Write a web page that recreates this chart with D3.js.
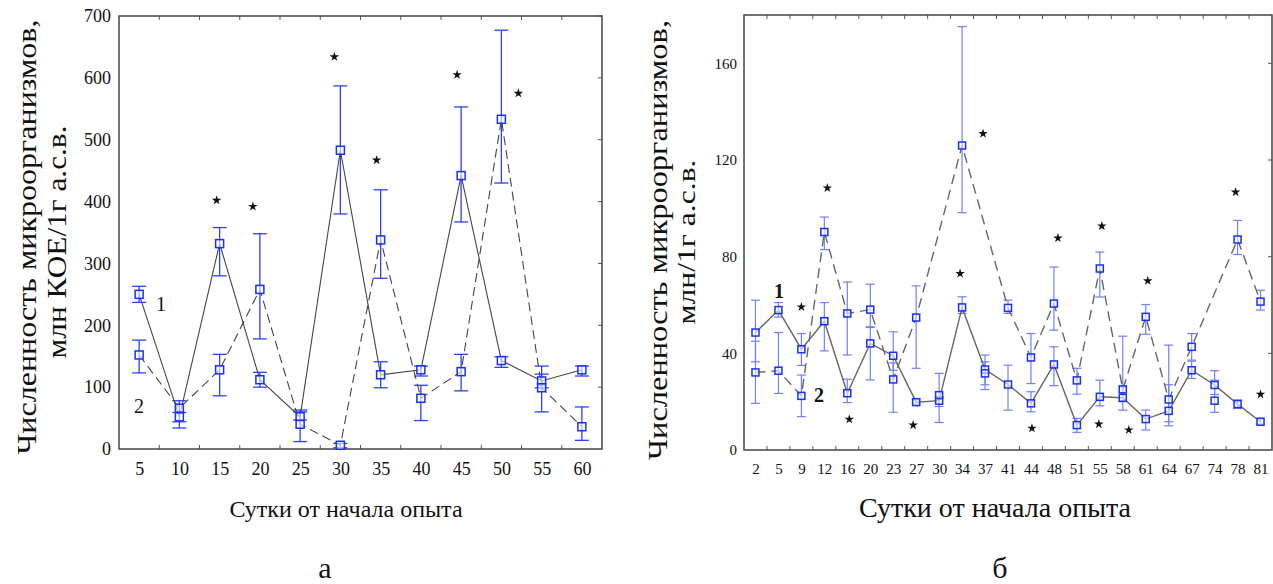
<!DOCTYPE html>
<html>
<head>
<meta charset="utf-8">
<script src="https://cdn.jsdelivr.net/npm/d3@7"></script>
<style>
body { margin: 0; background: #fff; }
svg { font-family: "Liberation Serif", "Times New Roman", serif; }
</style>
</head>
<body>
<svg width="1273" height="584"></svg>
<script>
// ---- panel а ----
var daysA = [5, 10, 15, 20, 25, 30, 35, 40, 45, 50, 55, 60];
var s1A   = [250, 52, 332, 112, 52, 483, 120, 128, 442, 143, 110, 128];
var s1ALo = [237, 44, 280, 100, 47, 380, 99, 118, 367, 132, 99, 118];
var s1AHi = [263, 59, 358, 124, 60, 587, 141, 134, 553, 149, 121, 134];
var s2A   = [152, 66, 128, 258, 40, 6, 338, 82, 125, 533, 99, 36];
var s2ALo = [123, 34, 86, 178, 12, 2, 276, 46, 94, 430, 60, 14];
var s2AHi = [176, 78, 153, 348, 63, 9, 419, 103, 153, 677, 134, 68];
var yTicksA = [0, 100, 200, 300, 400, 500, 600, 700];
var starDaysA = [15, 20, 30, 35, 45, 50];
var starValsA = [402, 392, 634, 467, 605, 575];
var starDxA   = [-3, -7, -6, -4, -4, 17];

// ---- panel б ----
var daysB = [2, 5, 9, 12, 16, 20, 23, 27, 30, 34, 37, 41, 44, 48, 51, 55, 58, 61, 64, 67, 74, 78, 81];
var s1B   = [48.6, 57.9, 41.7, 53.3, 23.5, 44.1, 39, 19.8, 20.4, 59, 33.3, 27.1, 19.3, 35.4, 10.3, 22, 21.6, 12.8, 16.2, 33, 26.9, 19, 11.7];
var s1BLo = [36.5, 55, 35, 41, 19.6, 29, 33, 19, 18, 56.5, 25, 16.5, 15.8, 26.6, 7.3, 18.3, 16.5, 8.3, 11.7, 29.6, 23, 17.2, 10.8];
var s1BHi = [62, 61, 48.2, 61, 29.3, 51, 48.9, 20.8, 22, 63.4, 39.3, 35.1, 24.1, 42.7, 13.1, 28.9, 26, 16.5, 27, 36.8, 32.8, 20.7, 12.8];
var s2B   = [32.1, 32.8, 22.4, 90.2, 56.5, 58.1, 29.2, 54.8, 22.7, 126, 31.7, 58.8, 38.3, 60.6, 28.8, 75.1, 25.1, 55.1, 20.9, 42.7, 20.4, 87.1, 61.4];
var s2BLo = [19.3, 23.4, 13.8, 82.9, 39.3, 50.7, 15.6, 33.8, 11.4, 98.2, 27, 56.5, 27.5, 49.6, 23.1, 63.3, 20, 47.9, 10, 37.2, 15.6, 80.9, 57.9];
var s2BHi = [45, 48.6, 31, 96.4, 69.5, 68.6, 36, 67.9, 31.7, 175.2, 36.5, 62, 48.2, 75.7, 33.8, 81.9, 47.1, 60.2, 43.4, 48.2, 28.9, 95, 66.1];
var skip2B = [30, 37, 74];   // points of series 2 not joined by the dashed line
var yTicksB = [0, 40, 80, 120, 160];
var starDaysB = [9, 12, 16, 27, 34, 37, 44, 48, 55, 55, 58, 61, 78, 81];
var starValsB = [59.2, 108.4, 12.7, 10.3, 73, 130.9, 9, 87.7, 10.7, 92.7, 8.3, 70, 106.7, 23];
var starDxB   = [0, 3, 2, -3, -2, -2, 1, 4, -1, 2, 6, 2, -2, 0];

var svg = d3.select("svg");
var blueMark = "#1630ff";

function panel(o) {
  var g = svg.append("g");
  var x = d3.scalePoint().domain(o.days).range([o.left, o.right]).padding(0.5);
  var y = d3.scaleLinear().domain([0, o.ymax]).range([o.bottom, o.top]);
  var step = x.step();

  // y tick labels
  var ya = g.append("g").attr("transform", "translate(" + o.left + ",0)")
      .call(d3.axisLeft(y).tickValues(o.yticks).tickSize(0).tickPadding(o.ypad));
  ya.select(".domain").remove();
  ya.attr("font-family", null).attr("font-size", o.yfs);
  ya.selectAll("text").attr("fill", "#111");

  // x tick labels
  var xa = g.append("g").attr("transform", "translate(0," + o.bottom + ")")
      .call(d3.axisBottom(x).tickSize(0).tickPadding(o.xpad));
  xa.select(".domain").remove();
  xa.attr("font-family", null).attr("font-size", o.xfs);
  xa.selectAll("text").attr("fill", "#111");

  // inward ticks on top, bottom (between categories) and right side
  var bounds = o.days.slice(1).map(function(d) { return x(d) - step / 2; });
  var tk = g.append("g").attr("stroke", "#555").attr("stroke-width", 1);
  bounds.forEach(function(b) {
    tk.append("line").attr("x1", b).attr("x2", b).attr("y1", o.top).attr("y2", o.top + 4);
    tk.append("line").attr("x1", b).attr("x2", b).attr("y1", o.bottom).attr("y2", o.bottom - 4);
  });
  o.yticks.slice(1).forEach(function(t) {
    tk.append("line").attr("x1", o.right).attr("x2", o.right - 4).attr("y1", y(t)).attr("y2", y(t));
  });

  // frame
  g.append("rect").attr("x", o.left).attr("y", o.top)
      .attr("width", o.right - o.left).attr("height", o.bottom - o.top)
      .attr("fill", "none").attr("stroke", "#444").attr("stroke-width", 1.5);

  // error bars
  var series = [
    { v: o.s1, lo: o.s1lo, hi: o.s1hi, dash: null, skip: [] },
    { v: o.s2, lo: o.s2lo, hi: o.s2hi, dash: o.dash, skip: o.skip2 || [] }
  ];
  var eb = g.append("g").attr("stroke", o.errColor).attr("stroke-width", o.errW).attr("fill", "none");
  series.forEach(function(s) {
    o.days.forEach(function(d, i) {
      var cx = x(d);
      eb.append("line").attr("x1", cx).attr("x2", cx).attr("y1", y(s.lo[i])).attr("y2", y(s.hi[i]));
      eb.append("line").attr("x1", cx - o.cap).attr("x2", cx + o.cap).attr("y1", y(s.lo[i])).attr("y2", y(s.lo[i]));
      eb.append("line").attr("x1", cx - o.cap).attr("x2", cx + o.cap).attr("y1", y(s.hi[i])).attr("y2", y(s.hi[i]));
    });
  });

  // lines
  series.forEach(function(s) {
    var pts = o.days.map(function(d, i) { return [d, s.v[i]]; })
        .filter(function(p) { return s.skip.indexOf(p[0]) < 0; });
    g.append("path")
        .attr("d", d3.line().x(function(p) { return x(p[0]); }).y(function(p) { return y(p[1]); })(pts))
        .attr("fill", "none").attr("stroke", o.lineColor).attr("stroke-width", o.lineW)
        .attr("stroke-dasharray", s.dash);
  });

  // markers
  series.forEach(function(s) {
    g.append("g").selectAll("rect").data(s.v).join("rect")
        .attr("x", function(v, i) { return x(o.days[i]) - o.ms / 2; })
        .attr("y", function(v) { return y(v) - o.ms / 2; })
        .attr("width", o.ms).attr("height", o.ms)
        .attr("fill", "#fff").attr("fill-opacity", 0.6)
        .attr("stroke", blueMark).attr("stroke-width", 1.5);
  });

  // significance stars
  g.append("g").selectAll("path").data(o.starDays).join("path")
      .attr("d", d3.symbol(d3.symbolStar).size(28))
      .attr("transform", function(d, i) {
        return "translate(" + (x(d) + o.starDx[i]) + "," + y(o.starVals[i]) + ")";
      })
      .attr("fill", "#111");

  // y title
  o.ytitle.forEach(function(t) {
    g.append("text")
        .attr("transform", "translate(" + t.x + "," + t.y + ") rotate(-90)")
        .attr("text-anchor", "middle").attr("font-size", t.fs).attr("fill", "#111")
        .attr("textLength", t.len).attr("lengthAdjust", "spacingAndGlyphs")
        .text(t.text);
  });

  // x title and panel letter
  g.append("text").attr("x", o.xtitle.x).attr("y", o.xtitle.y)
      .attr("text-anchor", "middle").attr("font-size", o.xtitle.fs).attr("fill", "#111")
      .text("Сутки от начала опыта");
  g.append("text").attr("x", o.letter.x).attr("y", o.letter.y)
      .attr("text-anchor", "middle").attr("font-size", o.letter.fs).attr("fill", "#111")
      .text(o.letter.text);

  // series numbers
  o.nums.forEach(function(n) {
    g.append("text").attr("x", n.x).attr("y", n.y)
        .attr("text-anchor", "middle").attr("font-size", n.fs)
        .attr("font-weight", n.bold ? "bold" : null).attr("fill", "#111")
        .text(n.text);
  });
}

panel({
  days: daysA, s1: s1A, s1lo: s1ALo, s1hi: s1AHi, s2: s2A, s2lo: s2ALo, s2hi: s2AHi,
  left: 119, right: 602, top: 16, bottom: 449, ymax: 700, yticks: yTicksA,
  ypad: 8, yfs: 18, xpad: 13, xfs: 18,
  errColor: "#2b40ff", errW: 1.3, cap: 7, lineColor: "#444", lineW: 1.1, dash: "9,5", ms: 8,
  starDays: starDaysA, starVals: starValsA, starDx: starDxA,
  ytitle: [
    { text: "Численность микроорганизмов,", x: 36, y: 237, fs: 28, len: 435 },
    { text: "млн КОЕ/1г а.с.в.", x: 66, y: 242, fs: 27, len: 233 }
  ],
  xtitle: { x: 346, y: 517, fs: 24 },
  letter: { text: "а", x: 325, y: 578, fs: 30 },
  nums: [
    { text: "1", x: 161, y: 311, fs: 20 },
    { text: "2", x: 139, y: 413, fs: 20 }
  ]
});

panel({
  days: daysB, s1: s1B, s1lo: s1BLo, s1hi: s1BHi, s2: s2B, s2lo: s2BLo, s2hi: s2BHi, skip2: skip2B,
  left: 744, right: 1272, top: 15, bottom: 450, ymax: 180, yticks: yTicksB,
  ypad: 7, yfs: 15, xpad: 13, xfs: 15,
  errColor: "#6f7fff", errW: 1.2, cap: 4.5, lineColor: "#666", lineW: 1.4, dash: "10,6", ms: 7,
  starDays: starDaysB, starVals: starValsB, starDx: starDxB,
  ytitle: [
    { text: "Численность микроорганизмов,", x: 667, y: 240, fs: 28, len: 440 },
    { text: "млн/1г а.с.в.", x: 695, y: 242, fs: 26, len: 165 }
  ],
  xtitle: { x: 995, y: 517, fs: 28 },
  letter: { text: "б", x: 1000, y: 578, fs: 30 },
  nums: [
    { text: "1", x: 779, y: 298, fs: 20, bold: true },
    { text: "2", x: 819, y: 402, fs: 20, bold: true }
  ]
});
</script>
</body>
</html>
